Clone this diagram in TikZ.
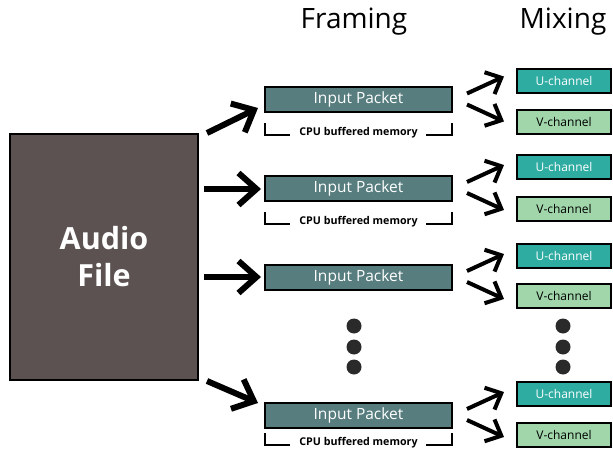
\documentclass[tikz,border=0pt]{standalone}
\usepackage{fontspec}
\setmainfont{Open Sans}
\usetikzlibrary{arrows.meta}

\definecolor{audiofill}{RGB}{92,82,81}
\definecolor{packetfill}{RGB}{87,125,127}
\definecolor{ufill}{RGB}{46,172,162}
\definecolor{vfill}{RGB}{160,214,170}
\definecolor{dotfill}{RGB}{42,42,42}

\tikzset{
  audiobox/.style={draw=black, line width=1.5pt, fill=audiofill, minimum width=188pt,
    minimum height=246pt, inner sep=0pt, text=white, font=\bfseries\fontsize{30.5}{37}\selectfont,
    align=center},
  packetbox/.style={draw=black, line width=2pt, fill=packetfill, minimum width=187pt,
    minimum height=25pt, inner sep=0pt, text=white, font=\fontsize{15.5}{18}\selectfont},
  ubox/.style={draw=black, line width=2pt, fill=ufill, minimum width=94pt,
    minimum height=24pt, inner sep=0pt, text=white, font=\fontsize{12}{14}\selectfont},
  vbox/.style={ubox, fill=vfill, text=black},
  title/.style={font=\fontsize{28}{32}\selectfont, text=black},
  feed/.style={line width=6pt, -{Straight Barb[length=18pt,width=32pt]}},
  split/.style={line width=4pt, -{Straight Barb[length=13pt,width=24pt]}},
  bracket/.style={line width=2.5pt},
  memlabel/.style={font=\bfseries\fontsize{10.7}{12}\selectfont, inner sep=0pt},
  dot/.style={circle, fill=dotfill, minimum size=15pt, inner sep=0pt}
}

\begin{document}
\begin{tikzpicture}[x=1pt, y=-1pt]
\useasboundingbox (0,0) rectangle (613,452);

% column titles
\node[title] (tframe) at (354,22) {Framing};
\node[title] (tmix) at (563,22) {Mixing};

% source file
\node[audiobox] (audio) at (104,257) {Audio\\File};

% framed packets
\node[packetbox] (p1) at (358.5,99.5) {Input Packet};
\node[packetbox] (p2) at (358.5,188) {Input Packet};
\node[packetbox] (p3) at (358.5,277) {Input Packet};
\node[packetbox] (p4) at (358.5,415) {Input Packet};

% buffer brackets under packets 1, 2 and 4
\foreach \p/\y in {p1/135, p2/224, p4/445} {
  \node[memlabel] (m\p) at (358.5,\y-2) {CPU buffered memory};
  \draw[bracket] (265,\y-12) -- (265,\y) -- (290,\y);
  \draw[bracket] (426,\y) -- (452,\y) -- (452,\y-12);
}

% mixed channels
\node[ubox] (u1) at (564,81) {U-channel};
\node[vbox] (v1) at (564,122) {V-channel};
\node[ubox] (u2) at (564,167) {U-channel};
\node[vbox] (v2) at (564,208.5) {V-channel};
\node[ubox] (u3) at (564,255.5) {U-channel};
\node[vbox] (v3) at (564,296) {V-channel};
\node[ubox] (u4) at (564,394) {U-channel};
\node[vbox] (v4) at (564,435) {V-channel};

% ellipsis dots
\foreach \i/\y in {1/326, 2/347, 3/367} {
  \node[dot] (fd\i) at (354,\y) {};
  \node[dot] (md\i) at (563,\y) {};
}

% audio file to packets
\coordinate (a1) at (207,133);
\coordinate (a2) at (204,189);
\coordinate (a3) at (204,277);
\coordinate (a4) at (207,381);
\coordinate (e1) at (258,108);
\coordinate (e2) at (261,189);
\coordinate (e3) at (261,277);
\coordinate (e4) at (258,403);
\foreach \i in {1,...,4} \draw[feed] (a\i) -- (e\i);

% packets to channels
\foreach \i/\y in {1/99.5, 2/188, 3/277, 4/415} {
  \coordinate (su\i) at (467,\y-6);
  \coordinate (sv\i) at (467,\y+5);
  \coordinate (tu\i) at (504,\y-23);
  \coordinate (tv\i) at (504,\y+22);
  \draw[split] (su\i) -- (tu\i);
  \draw[split] (sv\i) -- (tv\i);
}
\end{tikzpicture}
\end{document}
